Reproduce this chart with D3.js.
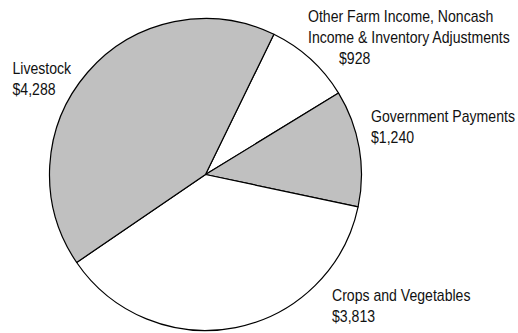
<!DOCTYPE html>
<html><head><meta charset="utf-8">
<script src="https://cdn.jsdelivr.net/npm/d3@7"></script>
<style>body{margin:0;background:#fff}svg{display:block}text{font-family:"Liberation Sans Narrow","Arial Narrow","Liberation Sans",sans-serif;font-size:16px;fill:#111}</style>
</head><body><svg id="c" width="518" height="333"></svg>
<script>
const categories = ["Other Farm Income, Noncash Income & Inventory Adjustments","Government Payments","Crops and Vegetables","Livestock"];
const values = [928, 1240, 3813, 4288];
const fills = ["#ffffff","#c0c0c0","#ffffff","#c0c0c0"];
const labelLines = [["Other Farm Income, Noncash","Income & Inventory Adjustments","$928"],["Government Payments","$1,240"],["Crops and Vegetables","$3,813"],["Livestock","$4,288"]];
const labelPos = [[308,21.5],[371,121.5],[332,300.5],[12.5,73.5]];
const svg = d3.select("#c");
const cx=205.5, cy=174.5, r=156;
const start = 26*Math.PI/180;
const pie = d3.pie().sort(null).startAngle(start).endAngle(start+2*Math.PI);
const arc = d3.arc().innerRadius(0).outerRadius(r);
const g = svg.append("g").attr("transform",`translate(${cx},${cy})`);
g.selectAll("path").data(pie(values)).join("path").attr("d",arc)
 .attr("fill",(d,i)=>fills[i]).attr("stroke","#000").attr("stroke-width",1.2).attr("stroke-linejoin","round");
const sx = 0.88;
labelLines.forEach((lines,i)=>{
  const t = svg.append("text").attr("transform",`translate(${labelPos[i][0]},${labelPos[i][1]}) scale(${sx},1)`);
  lines.forEach((l,j)=>{
    const isVal = j===lines.length-1 && i===0;
    t.append("tspan").attr("x",isVal?31/sx:0).attr("y",j*21.5).text(l);
  });
});
</script></body></html>
